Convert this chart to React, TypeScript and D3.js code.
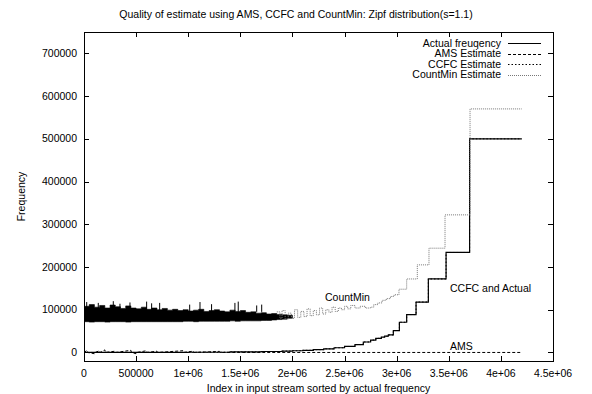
import React from "react";
import * as d3 from "d3";

const W = 592;
const H = 394;
const PLOT = { left: 84, right: 553, top: 32, bottom: 361 };
const FONT = "'Liberation Sans', Arial, Helvetica, sans-serif";

const title = "Quality of estimate using AMS, CCFC and CountMin: Zipf distribution(s=1.1)";
const xAxisTitle = "Index in input stream sorted by actual frequency";
const yAxisTitle = "Frequency";

const xTicks = [0, 500000, 1000000, 1500000, 2000000, 2500000, 3000000, 3500000, 4000000, 4500000];
const xTickLabels = ["0", "500000", "1e+06", "1.5e+06", "2e+06", "2.5e+06", "3e+06", "3.5e+06", "4e+06", "4.5e+06"];
const yTicks = [0, 100000, 200000, 300000, 400000, 500000, 600000, 700000];
const yTickLabels = ["0", "100000", "200000", "300000", "400000", "500000", "600000", "700000"];

const legendNames = ["Actual freuqency", "AMS Estimate", "CCFC Estimate", "CountMin Estimate"];

// Actual frequency along the sorted stream (step starts, in millions; levels)
const actualX = [0, 1.0, 1.4, 1.7, 1.9, 2.0, 2.1, 2.2, 2.3, 2.4, 2.5, 2.6, 2.68, 2.75, 2.8, 2.853, 2.885, 2.92, 2.968, 3.026, 3.096, 3.186, 3.304, 3.474, 3.7, 4.2];
const actualY = [0, 500, 1200, 2200, 3200, 4000, 5000, 6500, 8500, 11000, 14000, 18500, 24500, 29000, 33000, 36000, 38000, 41000, 51300, 70700, 88700, 118000, 172000, 234000, 500000, 500000];

// CCFC estimate tracks the actual counts
const ccfcX = actualX;
const ccfcY = actualY;

// AMS estimate: flat near zero with small excursions in the low range
const amsX = [0, 0.03, 0.035, 0.1, 0.105, 0.15, 0.155, 0.2, 0.205, 0.3, 0.305, 0.45, 0.455, 0.5, 0.505, 0.6, 0.605, 0.7, 0.705, 0.95, 0.955, 1.05, 1.055, 1.3, 1.305, 4.2];
const amsY = [0, 5000, 0, -3000, 0, 4000, 0, 6000, 0, 3000, 0, 5000, 0, -3000, 0, 4000, 0, 3000, 0, 4000, 0, 3000, 0, 2500, 0, 0];

// CountMin: dense band over the low-frequency items (millions; thousands)
const cmBandX = [0, 0.05, 0.1, 0.15, 0.2, 0.25, 0.3, 0.35, 0.4, 0.45, 0.5, 0.55, 0.6, 0.65, 0.7, 0.75, 0.8, 0.85, 0.9, 0.95, 1.0, 1.05, 1.1, 1.15, 1.2, 1.25, 1.3, 1.35, 1.4, 1.45, 1.5, 1.55, 1.6, 1.65, 1.7, 1.75, 1.8, 1.85, 1.9, 1.95, 2.0];
const cmBandHi = [108, 112, 106, 110, 104, 111, 107, 103, 109, 104, 102, 106, 101, 104, 100, 103, 99, 101, 98, 100, 97, 99, 101, 96, 98, 100, 97, 95, 99, 96, 98, 94, 95, 92, 93, 90, 91, 89, 88, 87, 86];
const cmBandLo = [72, 71, 72, 72, 71, 72, 72, 72, 71, 72, 72, 72, 72, 72, 72, 72, 72, 72, 72, 73, 73, 72, 73, 73, 73, 73, 73, 73, 74, 73, 74, 74, 74, 74, 75, 75, 76, 77, 78, 80, 82];

// CountMin: taller outliers inside the band (millions; thousands)
const cmSpikeX = [0.026, 0.137, 0.281, 0.345, 0.441, 0.601, 0.649, 0.726, 1.014, 1.113, 1.224, 1.448, 1.48, 1.657, 1.705];
const cmSpikeY = [118, 116, 120, 114, 117, 119, 115, 116, 112, 118, 113, 116, 119, 110, 112];

// CountMin: estimates for the heavier items (millions; thousands)
const cmLineX = [1.85, 1.88, 1.9, 1.93, 1.96, 1.99, 2.02, 2.05, 2.08, 2.11, 2.14, 2.17, 2.2, 2.23, 2.26, 2.29, 2.32, 2.35, 2.38, 2.41, 2.44, 2.47, 2.5, 2.53, 2.56, 2.6, 2.65, 2.7, 2.75, 2.78, 2.82, 2.86, 2.9, 2.94, 2.975, 3.022, 3.096, 3.198, 3.31, 3.464, 3.704, 4.2];
const cmLineY = [95, 80, 98, 78, 92, 80, 100, 82, 96, 84, 102, 86, 98, 88, 104, 90, 100, 94, 106, 96, 104, 100, 108, 102, 110, 104, 108, 104, 106, 112, 116, 122, 126, 131, 135, 148, 172, 205, 244, 322, 570, 570];

const x = d3.scaleLinear().domain([0, 4500000]).range([PLOT.left, PLOT.right]);
const y = d3.scaleLinear().domain([-20000, 750000]).range([PLOT.bottom, PLOT.top]);

type Pt = [number, number];
const zip = (xs: number[], ys: number[], xs_: number, ys_: number): Pt[] =>
  xs.map((v, i) => [v * xs_, ys[i] * ys_] as Pt);

const stepLine = d3
  .line<Pt>()
  .x((d) => x(d[0]))
  .y((d) => y(d[1]))
  .curve(d3.curveStepAfter);

const plainLine = d3
  .line<Pt>()
  .x((d) => x(d[0]))
  .y((d) => y(d[1]));

const bandArea = d3
  .area<number>()
  .x((_, i) => x(cmBandX[i] * 1e6))
  .y0((_, i) => y(cmBandLo[i] * 1000))
  .y1((_, i) => y(cmBandHi[i] * 1000))
  .curve(d3.curveStepAfter);

const styles = [
  { stroke: "#000", dash: "none", width: 1.2 },
  { stroke: "#000", dash: "3,2", width: 1 },
  { stroke: "#000", dash: "1.5,2", width: 1 },
  { stroke: "#777", dash: "1,1", width: 1 },
];

// pixel-aligned coordinate for crisp 1px strokes
const px = (v: number) => Math.round(v) + 0.5;

export default function App() {
  const actual = zip(actualX, actualY, 1e6, 1);
  const ccfc = zip(ccfcX, ccfcY, 1e6, 1);
  const ams = zip(amsX, amsY, 1e6, 1);
  const cm = zip(cmLineX, cmLineY, 1e6, 1000);
  const clipId = "plot-clip";

  return (
    <svg
      width={W}
      height={H}
      style={{ position: "absolute", left: 0, top: 0, background: "#fff" }}
      fontFamily={FONT}
    >
      <defs>
        <clipPath id={clipId}>
          <rect x={PLOT.left} y={PLOT.top} width={PLOT.right - PLOT.left} height={PLOT.bottom - PLOT.top} />
        </clipPath>
      </defs>
      <rect width={W} height={H} fill="#fff" />

      <text x={W / 2} y={18} textAnchor="middle" fontSize={10.5}>
        {title}
      </text>

      {/* Axis ticks, mirrored on all four sides */}
      {xTicks.map((t, i) => (
        <g key={"xt" + i}>
          <line x1={px(x(t))} x2={px(x(t))} y1={PLOT.bottom} y2={PLOT.bottom - 5} stroke="#000" />
          <line x1={px(x(t))} x2={px(x(t))} y1={PLOT.top} y2={PLOT.top + 5} stroke="#000" />
          <text x={x(t)} y={377} textAnchor="middle" fontSize={10.5}>
            {xTickLabels[i]}
          </text>
        </g>
      ))}
      {yTicks.map((t, i) => (
        <g key={"yt" + i}>
          <line x1={PLOT.left} x2={PLOT.left + 5} y1={px(y(t))} y2={px(y(t))} stroke="#000" />
          <line x1={PLOT.right} x2={PLOT.right - 5} y1={px(y(t))} y2={px(y(t))} stroke="#000" />
          <text x={77} y={y(t)} dy="0.35em" textAnchor="end" fontSize={10.5}>
            {yTickLabels[i]}
          </text>
        </g>
      ))}

      <g clipPath={`url(#${clipId})`}>
        {/* Actual frequency */}
        <path d={stepLine(actual) ?? ""} fill="none" stroke={styles[0].stroke} strokeWidth={styles[0].width} />
        {/* AMS estimate */}
        <path d={plainLine(ams) ?? ""} fill="none" stroke={styles[1].stroke} strokeDasharray={styles[1].dash} strokeWidth={styles[1].width} />
        {/* CCFC estimate */}
        <path d={stepLine(ccfc) ?? ""} fill="none" stroke={styles[2].stroke} strokeDasharray={styles[2].dash} strokeWidth={styles[2].width} />
        {/* CountMin estimate */}
        <path d={bandArea(cmBandX) ?? ""} fill="#000" stroke="#000" strokeWidth={0.6} />
        {cmSpikeX.map((v, i) => (
          <line
            key={"sp" + i}
            x1={x(v * 1e6)}
            x2={x(v * 1e6)}
            y1={y(cmSpikeY[i] * 1000)}
            y2={y(95000)}
            stroke="#000"
            strokeWidth={1}
          />
        ))}
        <path d={stepLine(cm) ?? ""} fill="none" stroke={styles[3].stroke} strokeDasharray={styles[3].dash} strokeWidth={styles[3].width} />
      </g>

      {/* Legend */}
      {legendNames.map((name, i) => {
        const ly = 43 + i * 10.5;
        return (
          <g key={"lg" + i}>
            <text x={501} y={ly} dy="0.35em" textAnchor="end" fontSize={10.5}>
              {name}
            </text>
            <line
              x1={508}
              x2={541}
              y1={px(ly)}
              y2={px(ly)}
              stroke={styles[i].stroke}
              strokeDasharray={styles[i].dash}
              strokeWidth={1}
            />
          </g>
        );
      })}

      {/* Series annotations */}
      <text x={325} y={301} fontSize={10.5}>CountMin</text>
      <text x={450} y={292} fontSize={10.5}>CCFC and Actual</text>
      <text x={450} y={350} fontSize={10.5}>AMS</text>

      <rect
        x={PLOT.left + 0.5}
        y={PLOT.top + 0.5}
        width={PLOT.right - PLOT.left}
        height={PLOT.bottom - PLOT.top}
        fill="none"
        stroke="#000"
        strokeWidth={1}
      />

      <text x={(PLOT.left + PLOT.right) / 2} y={392} textAnchor="middle" fontSize={10.5}>
        {xAxisTitle}
      </text>
      <text
        transform={`translate(25, ${(PLOT.top + PLOT.bottom) / 2}) rotate(-90)`}
        textAnchor="middle"
        fontSize={10.5}
      >
        {yAxisTitle}
      </text>
    </svg>
  );
}
